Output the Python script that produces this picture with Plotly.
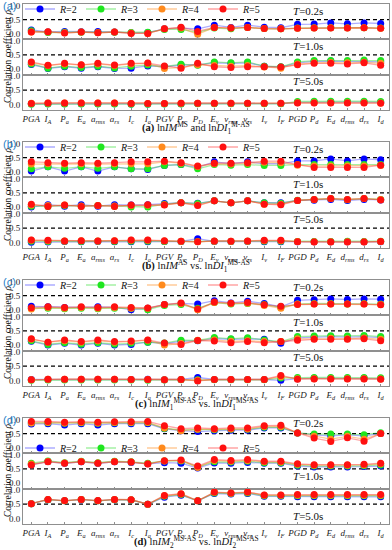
import plotly.graph_objects as go

# ---------------- data ----------------
categories = ["PGA", "I_A", "P_a", "E_a", "a_rms", "a_rs", "I_c", "I_a", "PGV", "P_v", "P_D",
              "E_v", "v_rms", "v_rs", "I_v", "I_F", "PGD", "P_d", "E_d", "d_rms", "d_rs", "I_d"]
tick_labels = ["<i>PGA</i>", "<i>I<sub>A</sub></i>", "<i>P<sub>a</sub></i>", "<i>E<sub>a</sub></i>",
               "<i>a<sub>rms</sub></i>", "<i>a<sub>rs</sub></i>", "<i>I<sub>c</sub></i>", "<i>I<sub>a</sub></i>",
               "<i>PGV</i>", "<i>P<sub>v</sub></i>", "<i>P<sub>D</sub></i>", "<i>E<sub>v</sub></i>",
               "<i>v<sub>rms</sub></i>", "<i>v<sub>rs</sub></i>", "<i>I<sub>v</sub></i>", "<i>I<sub>F</sub></i>",
               "<i>PGD</i>", "<i>P<sub>d</sub></i>", "<i>E<sub>d</sub></i>", "<i>d<sub>rms</sub></i>",
               "<i>d<sub>rs</sub></i>", "<i>I<sub>d</sub></i>"]
series_names = ["R=2", "R=3", "R=4", "R=5"]
periods = ["0.2", "1.0", "5.0"]

# panel (a)
a02_R2 = [0.13, 0.06, 0.08, 0.07, 0.08, 0.06, 0.03, 0.04, 0.17, 0.20, 0.17, 0.30, 0.22, 0.30, 0.23, 0.21, 0.33, 0.34, 0.38, 0.35, 0.38, 0.36]
a02_R3 = [0.10, 0.04, 0.05, 0.05, 0.04, 0.05, 0.04, 0.05, 0.15, 0.15, 0.05, 0.20, 0.17, 0.22, 0.18, 0.17, 0.20, 0.21, 0.21, 0.21, 0.21, 0.20]
a02_R4 = [0.06, 0.06, 0.03, 0.06, 0.03, 0.06, 0.02, 0.01, 0.17, 0.20, -0.02, 0.22, 0.20, 0.22, 0.18, 0.17, 0.19, 0.20, 0.21, 0.20, 0.21, 0.19]
a02_R5 = [0.06, 0.07, 0.02, 0.06, 0.03, 0.06, 0.01, 0.01, 0.17, 0.23, 0.08, 0.22, 0.20, 0.22, 0.18, 0.17, 0.19, 0.20, 0.20, 0.20, 0.21, 0.19]
a10_R2 = [0.16, 0.02, 0.08, 0.03, 0.08, 0.02, 0.03, 0.11, 0.08, 0.14, 0.15, 0.22, 0.20, 0.22, 0.10, 0.07, 0.22, 0.27, 0.28, 0.27, 0.28, 0.25]
a10_R3 = [0.18, 0.03, 0.10, 0.05, 0.10, 0.04, 0.10, 0.14, 0.08, 0.17, 0.13, 0.25, 0.22, 0.25, 0.10, 0.08, 0.25, 0.30, 0.30, 0.30, 0.32, 0.30]
a10_R4 = [0.22, 0.12, 0.18, 0.14, 0.18, 0.12, 0.18, 0.20, 0.02, 0.05, 0.15, 0.12, 0.10, 0.12, 0.07, 0.03, 0.18, 0.22, 0.23, 0.22, 0.24, 0.20]
a10_R5 = [0.25, 0.13, 0.20, 0.15, 0.20, 0.14, 0.20, 0.21, 0.11, 0.03, 0.20, 0.08, 0.05, 0.08, 0.08, 0.07, 0.15, 0.20, 0.20, 0.18, 0.22, 0.13]
a50_R2 = [0.02, 0.02, 0.02, 0.02, 0.02, 0.02, 0.01, 0.01, 0.02, 0.02, 0.03, 0.03, 0.03, 0.03, 0.03, 0.03, 0.07, 0.08, 0.08, 0.08, 0.08, 0.07]
a50_R3 = [0.00, 0.01, 0.01, 0.01, 0.01, 0.01, 0.00, 0.00, 0.01, 0.01, 0.02, 0.02, 0.02, 0.02, 0.02, 0.02, 0.10, 0.11, 0.11, 0.11, 0.11, 0.10]
a50_R4 = [0.04, 0.05, 0.05, 0.05, 0.05, 0.05, 0.03, 0.03, 0.03, 0.04, 0.04, 0.04, 0.04, 0.04, 0.04, 0.04, 0.06, 0.06, 0.06, 0.06, 0.06, 0.05]
a50_R5 = [0.03, 0.05, 0.05, 0.05, 0.05, 0.05, 0.03, 0.03, 0.03, 0.04, 0.04, 0.04, 0.04, 0.04, 0.04, 0.04, 0.05, 0.05, 0.05, 0.05, 0.05, 0.04]

# panel (b)
b02_R2 = [0.02, 0.17, 0.02, 0.17, 0.02, 0.17, 0.10, 0.08, 0.22, 0.25, 0.15, 0.35, 0.28, 0.35, 0.28, 0.28, 0.38, 0.38, 0.45, 0.38, 0.45, 0.42]
b02_R3 = [0.10, 0.17, 0.12, 0.17, 0.12, 0.17, 0.10, 0.10, 0.22, 0.25, 0.10, 0.25, 0.23, 0.25, 0.22, 0.22, 0.25, 0.25, 0.25, 0.25, 0.25, 0.25]
b02_R4 = [0.27, 0.28, 0.27, 0.28, 0.27, 0.28, 0.28, 0.28, 0.35, 0.30, 0.18, 0.28, 0.27, 0.30, 0.33, 0.32, 0.23, 0.20, 0.20, 0.20, 0.20, 0.22]
b02_R5 = [0.35, 0.32, 0.30, 0.32, 0.30, 0.32, 0.35, 0.35, 0.37, 0.32, 0.20, 0.30, 0.30, 0.32, 0.37, 0.37, 0.25, 0.15, 0.15, 0.15, 0.15, 0.23]
b10_R2 = [0.00, 0.08, 0.03, 0.08, 0.03, 0.08, 0.07, 0.08, 0.12, 0.15, 0.13, 0.22, 0.15, 0.22, 0.15, 0.15, 0.23, 0.24, 0.27, 0.23, 0.27, 0.25]
b10_R3 = [0.03, 0.02, 0.05, 0.03, 0.05, 0.03, 0.00, 0.00, 0.10, 0.15, 0.12, 0.22, 0.15, 0.22, 0.15, 0.13, 0.24, 0.27, 0.30, 0.26, 0.30, 0.27]
b10_R4 = [0.07, 0.05, 0.07, 0.04, 0.05, 0.04, 0.05, 0.06, 0.08, 0.15, 0.07, 0.22, 0.15, 0.22, 0.10, 0.10, 0.23, 0.27, 0.30, 0.27, 0.30, 0.27]
b10_R5 = [0.10, 0.02, 0.07, 0.02, 0.05, 0.02, 0.07, 0.08, 0.07, 0.15, 0.05, 0.22, 0.15, 0.22, 0.10, 0.08, 0.23, 0.27, 0.30, 0.27, 0.30, 0.25]
b50_R2 = [0.00, 0.01, 0.03, 0.02, 0.03, 0.02, 0.02, 0.02, 0.03, 0.03, 0.13, 0.03, 0.03, 0.03, 0.02, 0.02, 0.02, 0.02, 0.02, 0.02, 0.02, 0.02]
b50_R3 = [0.04, 0.03, 0.04, 0.03, 0.04, 0.03, 0.04, 0.04, 0.03, 0.03, 0.03, 0.04, 0.03, 0.04, 0.04, 0.04, 0.03, 0.03, 0.03, 0.04, 0.03, 0.04]
b50_R4 = [0.07, 0.06, 0.05, 0.06, 0.05, 0.06, 0.07, 0.07, 0.05, 0.04, 0.02, 0.04, 0.04, 0.04, 0.06, 0.06, 0.03, 0.02, 0.02, 0.02, 0.02, 0.03]
b50_R5 = [0.08, 0.07, 0.05, 0.06, 0.05, 0.06, 0.08, 0.08, 0.06, 0.04, 0.02, 0.05, 0.04, 0.05, 0.07, 0.07, 0.02, 0.01, 0.01, 0.01, 0.01, 0.03]

# panel (c)
c02_R2 = [0.12, 0.10, 0.08, 0.08, 0.10, 0.08, 0.00, 0.05, 0.18, 0.22, 0.20, 0.32, 0.24, 0.30, 0.22, 0.10, 0.33, 0.35, 0.38, 0.36, 0.38, 0.37]
c02_R3 = [0.05, 0.05, 0.03, 0.05, 0.03, 0.05, 0.05, 0.00, 0.15, 0.18, 0.05, 0.25, 0.20, 0.22, 0.18, 0.08, 0.20, 0.22, 0.22, 0.20, 0.22, 0.20]
c02_R4 = [0.02, 0.08, 0.05, 0.08, 0.05, 0.08, 0.05, 0.05, 0.18, 0.22, 0.00, 0.25, 0.22, 0.23, 0.15, 0.05, 0.20, 0.20, 0.20, 0.20, 0.20, 0.18]
c02_R5 = [0.07, 0.10, 0.08, 0.10, 0.08, 0.10, 0.08, 0.06, 0.18, 0.24, 0.02, 0.27, 0.23, 0.25, 0.17, 0.12, 0.18, 0.20, 0.20, 0.20, 0.20, 0.17]
c10_R2 = [0.13, 0.00, 0.06, 0.00, 0.06, 0.00, 0.02, 0.10, 0.05, 0.13, 0.15, 0.23, 0.20, 0.22, 0.20, 0.06, 0.25, 0.28, 0.30, 0.28, 0.30, 0.26]
c10_R3 = [0.15, 0.02, 0.08, 0.03, 0.08, 0.03, 0.06, 0.10, 0.07, 0.17, 0.16, 0.27, 0.22, 0.26, 0.18, 0.12, 0.30, 0.32, 0.33, 0.32, 0.34, 0.30]
c10_R4 = [0.20, 0.10, 0.15, 0.10, 0.15, 0.10, 0.12, 0.17, 0.00, 0.05, 0.17, 0.18, 0.13, 0.15, 0.12, 0.12, 0.22, 0.22, 0.24, 0.22, 0.25, 0.20]
c10_R5 = [0.22, 0.10, 0.18, 0.12, 0.18, 0.12, 0.14, 0.18, 0.07, 0.02, 0.16, 0.14, 0.08, 0.12, 0.08, 0.12, 0.17, 0.20, 0.20, 0.20, 0.22, 0.15]
c50_R2 = [0.03, 0.03, 0.03, 0.03, 0.03, 0.03, 0.03, 0.04, 0.02, 0.03, 0.10, 0.03, 0.03, 0.03, 0.03, 0.00, 0.06, 0.07, 0.07, 0.07, 0.07, 0.06]
c50_R3 = [0.00, 0.01, 0.01, 0.01, 0.01, 0.01, 0.01, 0.00, 0.01, 0.02, 0.02, 0.02, 0.02, 0.02, 0.02, 0.08, 0.10, 0.10, 0.10, 0.10, 0.10, 0.09]
c50_R4 = [0.02, 0.04, 0.04, 0.04, 0.04, 0.04, 0.03, 0.03, 0.02, 0.03, 0.00, 0.03, 0.03, 0.03, 0.03, 0.13, 0.06, 0.06, 0.06, 0.06, 0.06, 0.05]
c50_R5 = [0.02, 0.04, 0.04, 0.04, 0.04, 0.04, 0.03, 0.03, 0.02, 0.03, -0.02, 0.03, 0.03, 0.03, 0.03, 0.17, 0.04, 0.05, 0.05, 0.05, 0.05, 0.04]

# panel (d)
d02_R2 = [0.84, 0.85, 0.80, 0.85, 0.80, 0.85, 0.85, 0.85, 0.67, 0.60, 0.57, 0.60, 0.62, 0.62, 0.70, 0.70, 0.52, 0.45, 0.42, 0.45, 0.42, 0.50]
d02_R3 = [0.88, 0.88, 0.86, 0.88, 0.86, 0.88, 0.88, 0.88, 0.68, 0.62, 0.65, 0.63, 0.65, 0.65, 0.72, 0.72, 0.52, 0.48, 0.48, 0.48, 0.46, 0.53]
d02_R4 = [0.87, 0.89, 0.87, 0.89, 0.87, 0.89, 0.89, 0.89, 0.70, 0.60, 0.65, 0.65, 0.66, 0.66, 0.75, 0.75, 0.52, 0.40, 0.30, 0.40, 0.30, 0.50]
d02_R5 = [0.93, 0.93, 0.90, 0.92, 0.90, 0.92, 0.92, 0.93, 0.78, 0.67, 0.70, 0.67, 0.70, 0.70, 0.78, 0.79, 0.52, 0.34, 0.22, 0.35, 0.23, 0.50]
d10_R2 = [0.65, 0.76, 0.70, 0.75, 0.70, 0.75, 0.73, 0.68, 0.72, 0.70, 0.53, 0.71, 0.70, 0.73, 0.70, 0.70, 0.60, 0.57, 0.57, 0.57, 0.58, 0.60]
d10_R3 = [0.70, 0.78, 0.72, 0.77, 0.72, 0.77, 0.75, 0.70, 0.78, 0.78, 0.57, 0.75, 0.74, 0.77, 0.72, 0.72, 0.63, 0.60, 0.60, 0.60, 0.61, 0.64]
d10_R4 = [0.67, 0.76, 0.71, 0.76, 0.71, 0.76, 0.74, 0.68, 0.78, 0.80, 0.55, 0.80, 0.77, 0.80, 0.75, 0.74, 0.66, 0.63, 0.63, 0.63, 0.64, 0.68]
d10_R5 = [0.64, 0.75, 0.70, 0.75, 0.70, 0.75, 0.74, 0.67, 0.79, 0.81, 0.60, 0.83, 0.80, 0.83, 0.77, 0.77, 0.68, 0.65, 0.65, 0.65, 0.66, 0.70]
d50_R2 = [0.52, 0.66, 0.62, 0.66, 0.62, 0.66, 0.65, 0.50, 0.75, 0.82, 0.62, 0.88, 0.86, 0.88, 0.78, 0.78, 0.76, 0.76, 0.76, 0.76, 0.76, 0.76]
d50_R3 = [0.52, 0.66, 0.62, 0.67, 0.62, 0.66, 0.65, 0.50, 0.78, 0.84, 0.62, 0.90, 0.88, 0.90, 0.80, 0.80, 0.80, 0.80, 0.80, 0.80, 0.80, 0.80]
d50_R4 = [0.52, 0.67, 0.62, 0.67, 0.62, 0.67, 0.66, 0.50, 0.80, 0.86, 0.62, 0.92, 0.89, 0.92, 0.82, 0.82, 0.82, 0.82, 0.82, 0.82, 0.82, 0.82]
d50_R5 = [0.52, 0.67, 0.63, 0.67, 0.63, 0.67, 0.66, 0.50, 0.81, 0.87, 0.62, 0.93, 0.90, 0.93, 0.83, 0.83, 0.84, 0.84, 0.84, 0.84, 0.84, 0.84]

captions = [
    "<b>(a)</b> ln<i>IM</i><sup>MS</sup> and ln<i>DI</i><sub>1</sub><sup>M-AS</sup>",
    "<b>(b)</b> ln<i>IM</i><sup>AS</sup> vs. ln<i>DI</i><sub>1</sub><sup>MS-AS</sup>",
    "<b>(c)</b> ln<i>IM</i><sub>1</sub><sup>MS-AS</sup> vs. ln<i>DI</i><sub>1</sub><sup>MS-AS</sup>",
    "<b>(d)</b> ln<i>IM</i><sub>2</sub><sup>MS-AS</sup> vs. ln<i>DI</i><sub>2</sub><sup>MS-AS</sup>",
]
panel_letters = ["(a)", "(b)", "(c)", "(d)"]

panels = [
    [[a02_R2, a02_R3, a02_R4, a02_R5], [a10_R2, a10_R3, a10_R4, a10_R5], [a50_R2, a50_R3, a50_R4, a50_R5]],
    [[b02_R2, b02_R3, b02_R4, b02_R5], [b10_R2, b10_R3, b10_R4, b10_R5], [b50_R2, b50_R3, b50_R4, b50_R5]],
    [[c02_R2, c02_R3, c02_R4, c02_R5], [c10_R2, c10_R3, c10_R4, c10_R5], [c50_R2, c50_R3, c50_R4, c50_R5]],
    [[d02_R2, d02_R3, d02_R4, d02_R5], [d10_R2, d10_R3, d10_R4, d10_R5], [d50_R2, d50_R3, d50_R4, d50_R5]],
]

# ---------------- style / layout ----------------
W, H = 392, 550
SERIF = "Liberation Serif, Times New Roman, serif"
marker_colors = ["#0000ff", "#1ee61e", "#ff8a1c", "#ff1010"]
line_colors = ["rgba(60,60,255,0.42)", "rgba(40,220,40,0.42)", "rgba(255,140,30,0.45)", "rgba(255,40,40,0.42)"]
GRAY = "#8f8f8f"

x_left, x_right = 23, 389
panel_top = [4, 142, 280, 418]
sub_h = 106 / 3.0

def px_x(x):
    return x / W

def px_y(y):
    return 1 - y / H

fig = go.Figure()
layout = dict(width=W, height=H, margin=dict(l=0, r=0, t=0, b=0, autoexpand=False),
              paper_bgcolor="white", plot_bgcolor="white", showlegend=True)
shapes, annotations = [], []
legend_ids = ["legend", "legend2", "legend3", "legend4"]
legend_off = [5, 5, 5, 30]
t_off = [[7, 42, 77], [7, 42, 77], [7, 42, 77], [5, 58, 98]]

x_idx = list(range(len(categories)))

for k in range(4):
    for j in range(3):
        n = 3 * k + j + 1
        sfx = "" if n == 1 else str(n)
        top = panel_top[k] + j * sub_h
        bot = top + sub_h
        layout["xaxis" + sfx] = dict(
            domain=[px_x(x_left), px_x(x_right)], anchor="y" + sfx, range=[-0.5, 21.5],
            tickmode="array", tickvals=x_idx, ticktext=tick_labels,
            showticklabels=(j == 2), tickangle=0, ticks="inside", ticklen=2, tickcolor=GRAY,
            showline=True, mirror=True, linecolor=GRAY, linewidth=1, showgrid=False, zeroline=False,
            tickfont=dict(family=SERIF, size=9, color="#222"))
        layout["yaxis" + sfx] = dict(
            domain=[px_y(bot), px_y(top)], anchor="x" + sfx, range=[-0.2, 1.05],
            tickmode="array", tickvals=[0, 0.5, 1.0], ticktext=["0.0", "0.5", "1.0"],
            ticks="", showline=True, mirror=True, linecolor=GRAY, linewidth=1,
            showgrid=False, zeroline=False, tickfont=dict(family=SERIF, size=9, color="#222"))
        shapes.append(dict(type="line", xref="x" + sfx + " domain", x0=0, x1=1,
                           yref="y" + sfx, y0=0.5, y1=0.5,
                           line=dict(color="black", width=1.2, dash="4px,3px"), layer="below"))
        for s in range(4):
            fig.add_trace(go.Scatter(
                x=x_idx, y=panels[k][j][s], mode="lines+markers",
                name="<i>R</i>=" + series_names[s].split("=")[1],
                line=dict(color=line_colors[s], width=1.3),
                marker=dict(color=marker_colors[s], size=7),
                xaxis="x" + sfx, yaxis="y" + sfx,
                legend=legend_ids[k], showlegend=(j == 0), cliponaxis=False))
        annotations.append(dict(text="<i>T</i>=" + periods[j] + "s", xref="paper", yref="paper",
                                x=px_x(308), y=px_y(panel_top[k] + t_off[k][j]), showarrow=False,
                                font=dict(family=SERIF, size=11, color="#111"),
                                xanchor="center", yanchor="middle"))
    layout[legend_ids[k]] = dict(orientation="h", x=px_x(20), xanchor="left",
                                 y=px_y(panel_top[k] + legend_off[k]), yanchor="middle",
                                 bgcolor="rgba(0,0,0,0)", font=dict(family=SERIF, size=10, color="#111"),
                                 itemwidth=30, tracegroupgap=0,
                                 entrywidth=16, entrywidthmode="pixels")
    annotations.append(dict(text=panel_letters[k], xref="paper", yref="paper", x=px_x(1),
                            y=px_y(panel_top[k] + 2), xanchor="left", yanchor="middle", showarrow=False,
                            font=dict(family="Liberation Sans, Arial, sans-serif", size=11, color="#2a7fc8")))
    annotations.append(dict(text="Correlation coefficient <i>ρ</i>", xref="paper", yref="paper",
                            x=px_x(8), y=px_y(panel_top[k] + 53), textangle=-90, showarrow=False,
                            xanchor="center", yanchor="middle",
                            font=dict(family=SERIF, size=9.5, color="#111")))
    annotations.append(dict(text=captions[k], xref="paper", yref="paper", x=px_x(196),
                            y=px_y(panel_top[k] + 124), xanchor="center", yanchor="middle", showarrow=False,
                            font=dict(family=SERIF, size=10.5, color="#111")))

layout["shapes"] = shapes
layout["annotations"] = annotations
fig.update_layout(**layout)
fig.write_html("out.html", config={"displayModeBar": False},
               post_script="document.body.style.margin='0';document.body.style.overflow='hidden';")
